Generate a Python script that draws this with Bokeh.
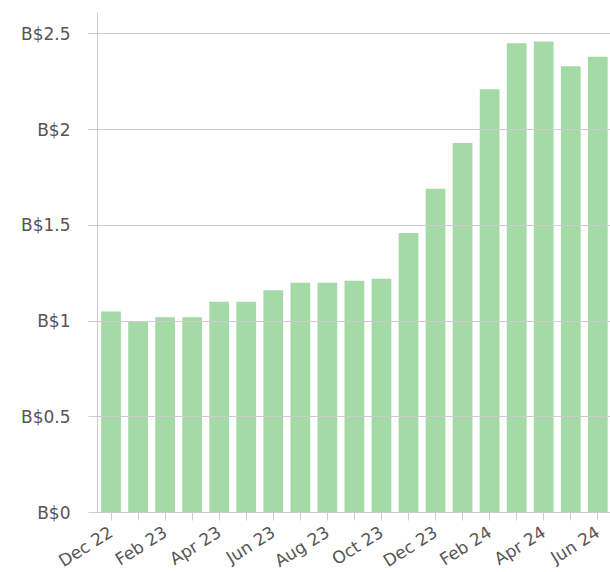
from bokeh.plotting import figure
from bokeh.models import FixedTicker, Range1d
from bokeh.embed import file_html
from bokeh.resources import INLINE

months = ["Dec 22", "Jan 23", "Feb 23", "Mar 23", "Apr 23", "May 23", "Jun 23",
          "Jul 23", "Aug 23", "Sep 23", "Oct 23", "Nov 23", "Dec 23", "Jan 24",
          "Feb 24", "Mar 24", "Apr 24", "May 24", "Jun 24"]
values = [1.05, 1.00, 1.02, 1.02, 1.10, 1.10, 1.16, 1.20, 1.20, 1.21, 1.22,
          1.46, 1.69, 1.93, 2.21, 2.45, 2.46, 2.33, 2.38]
y_ticks = [0, 0.5, 1, 1.5, 2, 2.5]
y_labels = ["B$0", "B$0.5", "B$1", "B$1.5", "B$2", "B$2.5"]

idx = list(range(len(months)))

p = figure(frame_width=513, frame_height=500, output_backend="svg", toolbar_location=None,
           x_range=Range1d(-0.5, 18.47), y_range=Range1d(0, 2.611),
           min_border_left=97, min_border_right=0, min_border_top=12, min_border_bottom=10)
p.outline_line_color = None
p.background_fill_color = "white"

p.vbar(x=idx, top=values, width=0.73, bottom=0, fill_color="#a3daa6", line_color=None)

font = "DejaVu Sans"
label_color = "#555555"
grid_color = "#cccccc"

# y axis
p.yaxis.ticker = FixedTicker(ticks=y_ticks)
p.yaxis.major_label_overrides = {t: l for t, l in zip(y_ticks, y_labels)}
p.yaxis.axis_line_color = grid_color
p.yaxis.major_tick_line_color = grid_color
p.yaxis.major_tick_out = 9
p.yaxis.major_tick_in = 0
p.yaxis.minor_tick_line_color = None
p.yaxis.major_label_text_font = font
p.yaxis.major_label_text_font_size = "17px"
p.yaxis.major_label_text_color = label_color
p.yaxis.major_label_standoff = 18

# x axis
p.xaxis.ticker = FixedTicker(ticks=idx)
p.xaxis.major_label_overrides = {i: (m if i % 2 == 0 else "") for i, m in enumerate(months)}
p.xaxis.axis_line_color = grid_color
p.xaxis.major_tick_line_color = grid_color
p.xaxis.major_tick_out = 8
p.xaxis.major_tick_in = 0
p.xaxis.minor_tick_line_color = None
p.xaxis.major_label_orientation = 0.56
p.xaxis.major_label_text_font = font
p.xaxis.major_label_text_font_size = "17px"
p.xaxis.major_label_text_color = label_color
p.xaxis.major_label_standoff = 10

p.xgrid.grid_line_color = None
p.ygrid.ticker = FixedTicker(ticks=y_ticks[1:])
p.ygrid.grid_line_color = grid_color
p.ygrid.grid_line_width = 1.2
p.ygrid.level = "overlay"

open("out.html", "w").write(file_html(p, INLINE))
